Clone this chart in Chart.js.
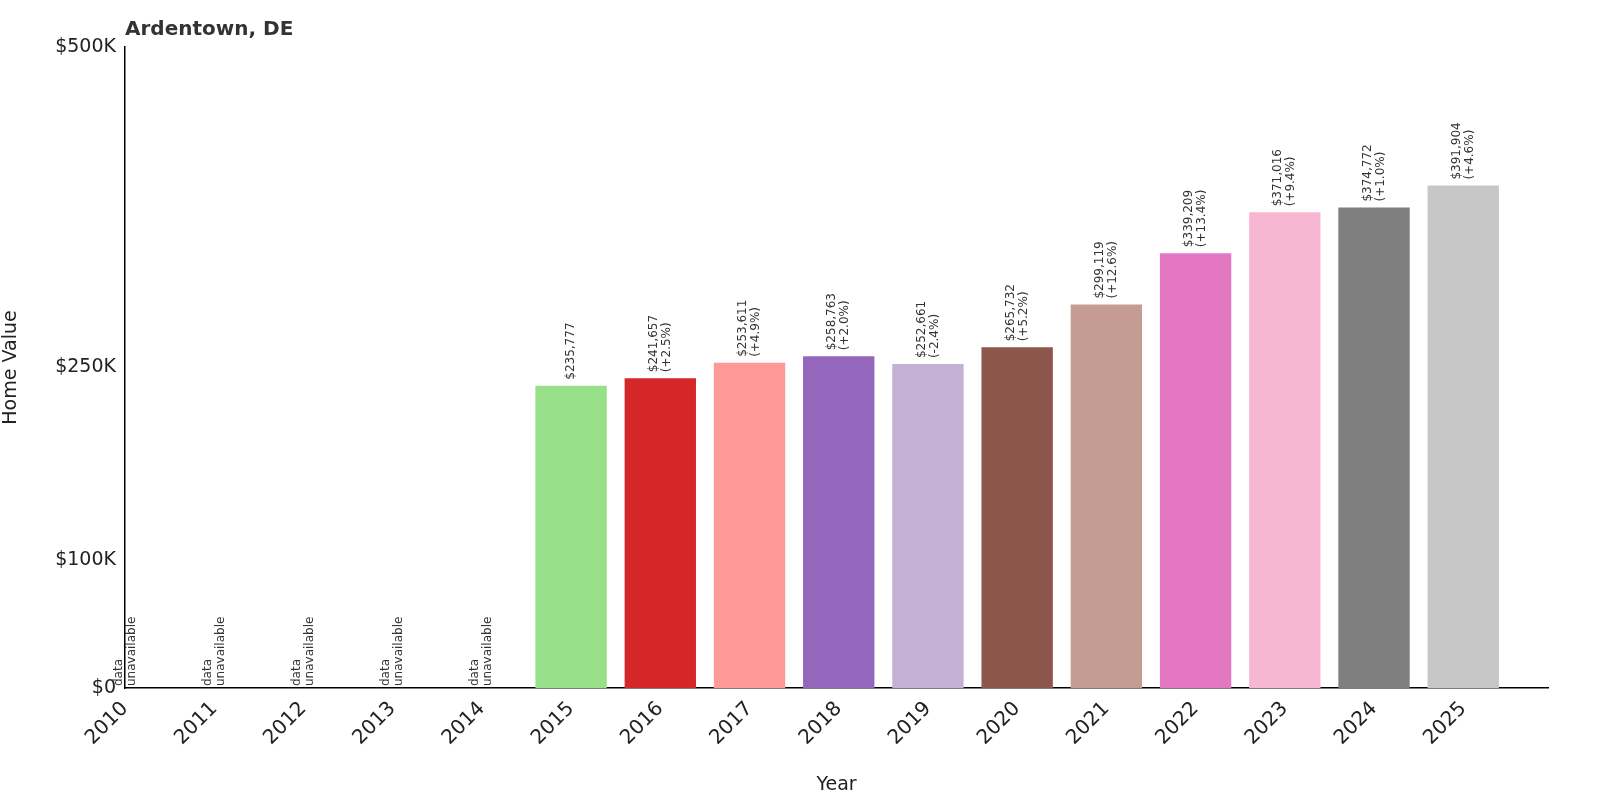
<!DOCTYPE html>
<html>
<head>
<meta charset="utf-8">
<script src="https://cdn.jsdelivr.net/npm/chart.js@4"></script>
<style>
  html, body { margin: 0; padding: 0; background: #fff; }
  #wrap { width: 1600px; height: 800px; }
</style>
</head>
<body>
<div id="wrap"><canvas id="chart"></canvas></div>
<script>
const years = [2010, 2011, 2012, 2013, 2014, 2015, 2016, 2017, 2018, 2019, 2020, 2021, 2022, 2023, 2024, 2025];
const values = [null, null, null, null, null, 235777, 241657, 253611, 258763, 252661, 265732, 299119, 339209, 371016, 374772, 391904];
const changes = [null, null, null, null, null, null, '+2.5%', '+4.9%', '+2.0%', '-2.4%', '+5.2%', '+12.6%', '+13.4%', '+9.4%', '+1.0%', '+4.6%'];
const barColors = ['#999', '#999', '#999', '#999', '#999', '#98df8a', '#d62728', '#ff9896', '#9467bd', '#c5b0d5',
  '#8c564b', '#c49c94', '#e377c2', '#f7b6d2', '#7f7f7f', '#c7c7c7'];
const yTicks = [0, 100000, 250000, 500000];
const yTickLabels = ['$0', '$100K', '$250K', '$500K'];

const FONT = 'DejaVu Sans';

// value labels above bars, rotated
const barLabels = {
  id: 'barLabels',
  afterDatasetsDraw(chart) {
    const ctx = chart.ctx;
    const xs = chart.scales.x, ys = chart.scales.y;
    ctx.save();
    ctx.fillStyle = '#333';
    ctx.font = '12px ' + FONT;
    years.forEach((yr, i) => {
      const x = xs.getPixelForValue(yr);
      const v = values[i];
      let lines, base;
      if (v == null) {
        lines = ['data', 'unavailable'];
        base = ys.getPixelForValue(0) - 2;
      } else {
        lines = ['$' + v.toLocaleString('en-US')];
        if (changes[i]) lines.push('(' + changes[i] + ')');
        base = ys.getPixelForValue(v) - 6;
      }
      ctx.save();
      ctx.translate(x, base);
      ctx.rotate(-Math.PI / 2);
      ctx.textAlign = 'left';
      ctx.textBaseline = 'middle';
      const lh = 13;
      const off = -(lines.length - 1) * lh / 2;
      lines.forEach((t, k) => ctx.fillText(t, 0, off + k * lh));
      ctx.restore();
    });
    ctx.font = 'bold 20px ' + FONT;
    ctx.fillStyle = '#333';
    ctx.textAlign = 'left';
    ctx.textBaseline = 'middle';
    ctx.fillText('Ardentown, DE', 125, 30);
    ctx.restore();
  }
};

new Chart(document.getElementById('chart'), {
  type: 'bar',
  data: {
    datasets: [{
      data: years.map((y, i) => ({ x: y, y: values[i] })),
      backgroundColor: barColors,
      barPercentage: 0.8,
      categoryPercentage: 1.0
    }]
  },
  options: {
    responsive: true,
    maintainAspectRatio: false,
    animation: false,
    layout: { padding: { top: 47, right: 52, left: 0, bottom: 0 } },
    plugins: { legend: { display: false }, tooltip: { enabled: false } },
    scales: {
      x: {
        type: 'linear',
        offset: false,
        min: 2010,
        max: 2025.95,
        grid: { display: false, drawTicks: true, tickLength: 6, color: '#000' },
        border: { color: '#000', width: 1.5 },
        afterBuildTicks(scale) { scale.ticks = years.map(v => ({ value: v })); },
        afterFit(scale) { scale.height = 112; },
        ticks: {
          color: '#222',
          font: { family: FONT, size: 20 },
          maxRotation: 45, minRotation: 45,
          callback: v => String(v)
        },
        title: { display: true, text: 'Year', color: '#222', font: { family: FONT, size: 19 }, padding: { top: 0, bottom: 4 } }
      },
      y: {
        min: 0,
        max: 500000,
        grid: { display: false, drawTicks: true, tickLength: 6 },
        border: { color: '#000', width: 1.5 },
        afterBuildTicks(scale) { scale.ticks = yTicks.map(v => ({ value: v })); },
        afterFit(scale) { scale.width = 125; },
        ticks: {
          color: '#222',
          font: { family: FONT, size: 19 },
          callback: v => yTickLabels[yTicks.indexOf(v)]
        },
        title: { display: true, text: 'Home Value', color: '#222', font: { family: FONT, size: 19 }, padding: { top: 0, bottom: 10 } }
      }
    }
  },
  plugins: [barLabels]
});
</script>
</body>
</html>
